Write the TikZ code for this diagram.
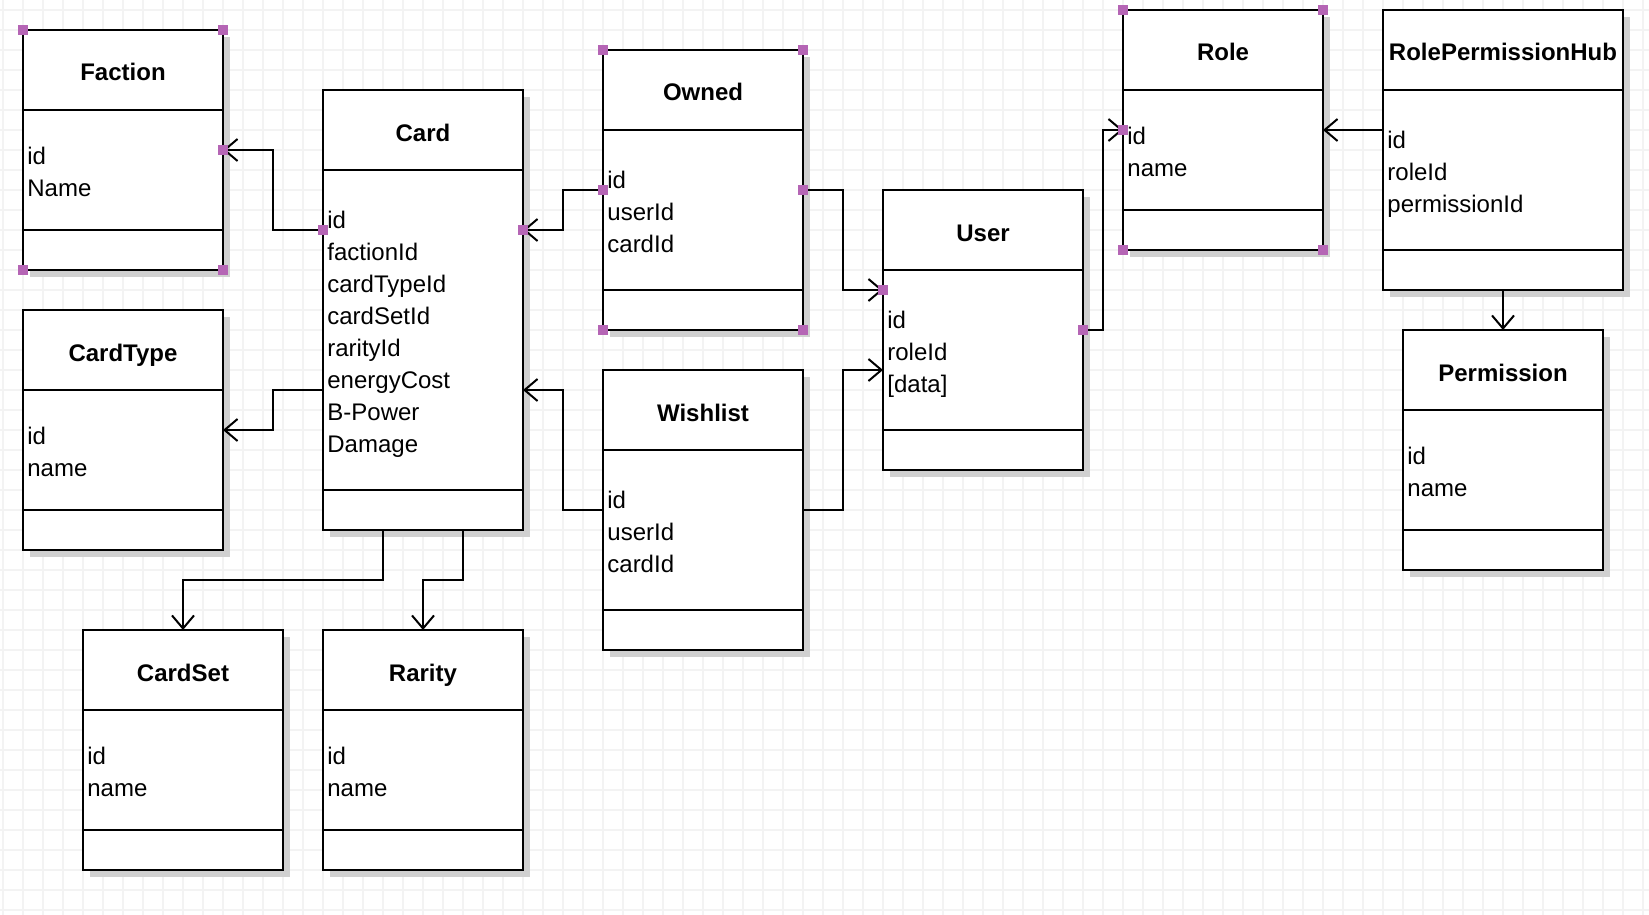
\documentclass[tikz,border=0pt]{standalone}
\usepackage{fontspec}
\setmainfont{Liberation Sans}
\usetikzlibrary{arrows.meta,calc}
\definecolor{gridc}{HTML}{F3F3F3}
\definecolor{shadowc}{HTML}{D0D0D0}
\definecolor{handlec}{HTML}{B565B5}
\tikzset{
  ent/.style={draw=black, line width=1pt, fill=white, inner sep=0pt, outer sep=0pt},
  sepline/.style={line width=1pt},
  conn/.style={line width=1pt, -{Straight Barb[length=6.5pt,width=11pt,line width=1pt]}},
  hnd/.style={fill=handlec, draw=none, minimum size=5pt, inner sep=0pt, outer sep=0pt},
  ttl/.style={font=\fontsize{12}{14}\selectfont\bfseries, inner sep=0pt, anchor=base},
  att/.style={font=\fontsize{12}{14}\selectfont, inner sep=0pt, anchor=base west}
}
% name, x, y, w, h, title, number of attributes, attributes
\newcommand\entbox[8]{%
  \fill[shadowc] (#2+7,#3+7) rectangle ++(#4,#5);
  \node[ent, minimum width=#4*0.5pt, minimum height=#5*0.5pt, anchor=north west] (#1) at (#2,#3) {};
  \draw[sepline] (#2,#3+80) -- ++(#4,0);
  \draw[sepline] (#2,#3+#5-40) -- ++(#4,0);
  \node[ttl] (#1-t) at ({#2+#4/2},#3+51) {#6};
  \foreach \t [count=\i from 0] in {#8}
    \node[att] (#1-a\i) at (#2+4,{#3+30.5+#5/2-16*(#7-1)+32*\i}) {\t};
}
\begin{document}
\begin{tikzpicture}[x=0.5pt,y=-0.5pt]
\useasboundingbox (0,0) rectangle (1649,915);
\fill[white] (0,0) rectangle (1649,915);
\foreach \i in {3,23,...,1643} \draw[gridc, line width=0.75pt] (\i,0) -- (\i,915);
\foreach \j in {10,30,...,910} \draw[gridc, line width=0.75pt] (0,\j) -- (1649,\j);

\entbox{faction}{23}{30}{200}{240}{Faction}{2}{id,Name}
\entbox{cardtype}{23}{310}{200}{240}{CardType}{2}{id,name}
\entbox{card}{323}{90}{200}{440}{Card}{8}{id,factionId,cardTypeId,cardSetId,rarityId,energyCost,B-Power,Damage}
\entbox{cardset}{83}{630}{200}{240}{CardSet}{2}{id,name}
\entbox{rarity}{323}{630}{200}{240}{Rarity}{2}{id,name}
\entbox{owned}{603}{50}{200}{280}{Owned}{3}{id,userId,cardId}
\entbox{wishlist}{603}{370}{200}{280}{Wishlist}{3}{id,userId,cardId}
\entbox{user}{883}{190}{200}{280}{User}{3}{id,roleId,[data]}
\entbox{role}{1123}{10}{200}{240}{Role}{2}{id,name}
\entbox{rph}{1383}{10}{240}{280}{RolePermissionHub}{3}{id,roleId,permissionId}
\entbox{permission}{1403}{330}{200}{240}{Permission}{2}{id,name}

% connectors
\draw[conn] ($(card.north west)+(0,140)$) -- ++(-50,0) |- ($(faction.north east)+(0,120)$);
\draw[conn] ($(card.north west)+(0,300)$) -- ++(-50,0) |- ($(cardtype.north east)+(0,120)$);
\draw[conn] ($(owned.north west)+(0,140)$) -- ++(-40,0) |- ($(card.north east)+(0,140)$);
\draw[conn] ($(wishlist.north west)+(0,140)$) -- ++(-40,0) |- ($(card.north east)+(0,300)$);
\draw[conn] ($(owned.north east)+(0,140)$) -- ++(40,0) |- ($(user.north west)+(0,100)$);
\draw[conn] ($(wishlist.north east)+(0,140)$) -- ++(40,0) |- ($(user.north west)+(0,180)$);
\draw[conn] ($(user.north east)+(0,140)$) -- ++(20,0) |- ($(role.north west)+(0,120)$);
\draw[conn] ($(rph.north west)+(0,120)$) -- ($(role.north east)+(0,120)$);
\draw[conn] (rph.south) -- (permission.north);
\draw[conn] ($(card.south west)+(60,0)$) -- ++(0,50) -| (cardset.north);
\draw[conn] ($(card.south west)+(140,0)$) -- ++(0,50) -| (rarity.north);

% selection handles
\foreach \a [count=\k] in {north west,north east,south west,south east} {
  \node[hnd] (hf\k) at (faction.\a) {};
  \node[hnd] (ho\k) at (owned.\a) {};
  \node[hnd] (hr\k) at (role.\a) {};
}
\node[hnd] (hf5) at ($(faction.north east)+(0,120)$) {};
\node[hnd] (hc1) at ($(card.north west)+(0,140)$) {};
\node[hnd] (hc2) at ($(card.north east)+(0,140)$) {};
\node[hnd] (ho5) at ($(owned.north west)+(0,140)$) {};
\node[hnd] (ho6) at ($(owned.north east)+(0,140)$) {};
\node[hnd] (hu1) at ($(user.north west)+(0,100)$) {};
\node[hnd] (hu2) at ($(user.north east)+(0,140)$) {};
\node[hnd] (hr5) at ($(role.north west)+(0,120)$) {};
\end{tikzpicture}
\end{document}
